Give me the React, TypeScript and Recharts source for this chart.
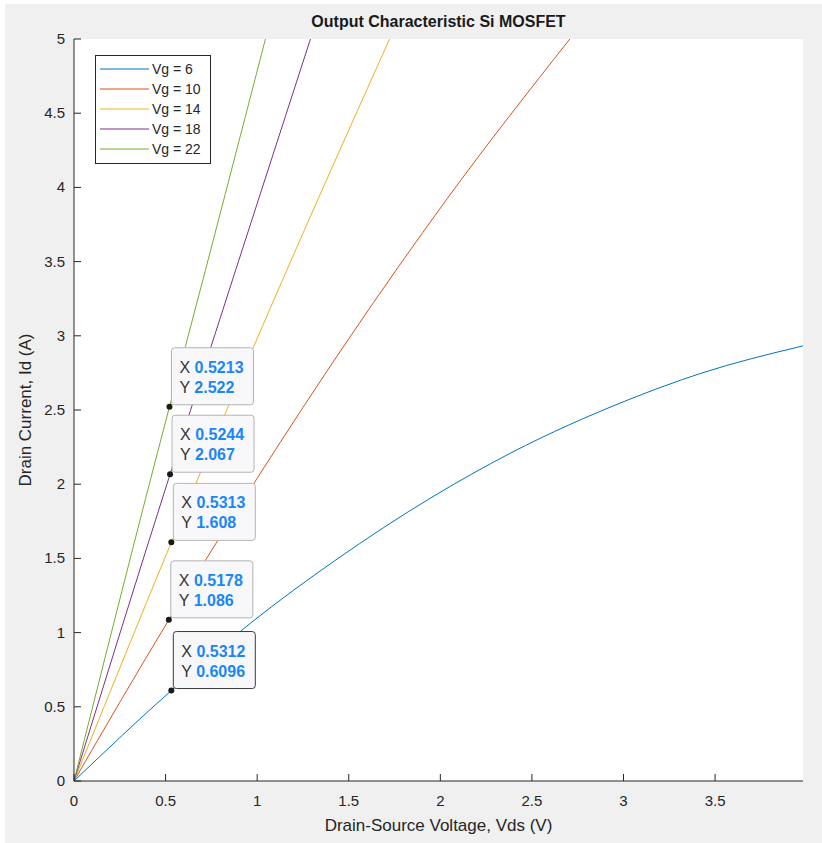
import { LineChart, Line, XAxis, YAxis, CartesianGrid, Legend, ReferenceDot } from 'recharts';

const FONT = '"Liberation Sans", Arial, Helvetica, sans-serif';
const AXIS_COLOR = '#262626';
const TIP_BLUE = '#1a87f5';

// gate voltages and their curves (Vds in V, Id in A)
const gateVoltages = [6, 10, 14, 18, 22];
const seriesColors = ['#0072BD', '#D95319', '#EDB120', '#7E2F8E', '#77AC30'];
const seriesNames = gateVoltages.map((v) => `Vg = ${v}`);

const vdsVg6 = [0, 0.5312, 0.963, 1.43, 1.947, 2.384, 3.023, 3.422, 3.98];
const idVg6 = [0, 0.6096, 1.063, 1.49, 1.907, 2.21, 2.567, 2.747, 2.932];

const vdsVg10 = [0, 0.5178, 1.0, 1.5, 2.038, 2.707];
const idVg10 = [0, 1.086, 2.04, 2.98, 3.925, 5];

const vdsVg14 = [0, 0.5313, 0.981, 1.723];
const idVg14 = [0, 1.608, 2.927, 5];

const vdsVg18 = [0, 0.5244, 0.748, 1.291];
const idVg18 = [0, 2.067, 2.927, 5];

const vdsVg22 = [0, 0.5213, 0.608, 1.045];
const idVg22 = [0, 2.522, 2.927, 5];

const xTicks = [0, 0.5, 1, 1.5, 2, 2.5, 3, 3.5];
const yTicks = [0, 0.5, 1, 1.5, 2, 2.5, 3, 3.5, 4, 4.5, 5];

// data tips
const tipVds = [0.5213, 0.5244, 0.5313, 0.5178, 0.5312];
const tipId = [2.522, 2.067, 1.608, 1.086, 0.6096];

const toPoints = (xs: number[], ys: number[]) => xs.map((v, i) => ({ vds: v, id: ys[i] }));

const series = [
    toPoints(vdsVg6, idVg6),
    toPoints(vdsVg10, idVg10),
    toPoints(vdsVg14, idVg14),
    toPoints(vdsVg18, idVg18),
    toPoints(vdsVg22, idVg22),
];

const TICK_LEN = 7;

const BottomTick = ({ x, y, payload }: any) => (
    <g>
        <line x1={x} x2={x} y1={y} y2={y - TICK_LEN} stroke={AXIS_COLOR} />
        <text x={x} y={y + 25} textAnchor="middle" fontSize={15} fill={AXIS_COLOR} fontFamily={FONT}>
            {payload.value}
        </text>
    </g>
);

const TopTick = ({ x, y }: any) => <line x1={x} x2={x} y1={y} y2={y + TICK_LEN} stroke={AXIS_COLOR} />;

const LeftTick = ({ x, y, payload }: any) => (
    <g>
        <line x1={x} x2={x + TICK_LEN} y1={y} y2={y} stroke={AXIS_COLOR} />
        <text x={x - 9} y={y + 5} textAnchor="end" fontSize={15} fill={AXIS_COLOR} fontFamily={FONT}>
            {payload.value}
        </text>
    </g>
);

const RightTick = ({ x, y }: any) => <line x1={x} x2={x - TICK_LEN} y1={y} y2={y} stroke={AXIS_COLOR} />;

const LegendBox = ({ payload }: any) => {
    // keep plotting order (recharts sorts by name otherwise)
    const items = [...(payload || [])].sort(
        (a: any, b: any) => seriesNames.indexOf(a.value) - seriesNames.indexOf(b.value)
    );
    return (
        <svg width={116} height={109} style={{ display: 'block' }}>
            <rect x={0.5} y={0.5} width={115} height={108} fill="#fff" stroke={AXIS_COLOR} />
            {items.map((entry: any, i: number) => {
                const cy = 14 + i * 20;
                return (
                    <g key={entry.value}>
                        <line x1={5} x2={54} y1={cy} y2={cy} stroke={entry.color} strokeWidth={1} />
                        <text x={57} y={cy + 5} fontSize={14} fill={AXIS_COLOR} fontFamily={FONT}>
                            {entry.value}
                        </text>
                    </g>
                );
            })}
        </svg>
    );
};

const makeTip = (xv: number, yv: number, selected: boolean) => (props: any) => {
    const { cx, cy } = props;
    return (
        <g>
            <rect
                x={cx + 2}
                y={cy - 59}
                width={82}
                height={57}
                rx={3}
                fill="#f8f8fb"
                stroke={selected ? '#3a3a3a' : '#b4b4b4'}
            />
            <text x={cx + 10} y={cy - 34} fontSize={16} fontFamily={FONT} fill="#333">
                X <tspan fill={TIP_BLUE} fontWeight="bold">{xv}</tspan>
            </text>
            <text x={cx + 10} y={cy - 14} fontSize={16} fontFamily={FONT} fill="#333">
                Y <tspan fill={TIP_BLUE} fontWeight="bold">{yv}</tspan>
            </text>
            <circle cx={cx} cy={cy} r={3} fill="#1a1a1a" />
        </g>
    );
};

export default function App() {
    return (
        <div style={{ position: 'absolute', left: 0, top: 0, width: 822, height: 843, background: '#fff', overflow: 'hidden' }}>
            <div style={{ position: 'absolute', left: 5, top: 4, right: 0, bottom: 0, background: '#f0f0f0' }} />
            <div
                style={{
                    position: 'absolute',
                    left: 74,
                    top: 13,
                    width: 729,
                    textAlign: 'center',
                    fontFamily: FONT,
                    fontWeight: 'bold',
                    fontSize: 16,
                    lineHeight: '18px',
                    color: '#1a1a1a',
                }}
            >
                Output Characteristic Si MOSFET
            </div>
            <div style={{ position: 'absolute', left: 0, top: 0 }}>
                <LineChart width={822} height={843} margin={{ top: 39, right: 19, left: 0, bottom: 0 }}>
                    <CartesianGrid fill="#fff" stroke="none" horizontal={false} vertical={false} />
                    <XAxis
                        xAxisId={0}
                        dataKey="vds"
                        type="number"
                        domain={[0, 3.98]}
                        allowDataOverflow
                        ticks={xTicks}
                        interval={0}
                        height={62}
                        tickSize={0}
                        tickMargin={0}
                        tickLine={false}
                        axisLine={{ stroke: AXIS_COLOR }}
                        tick={<BottomTick />}
                        label={{
                            value: 'Drain-Source Voltage, Vds (V)',
                            position: 'center',
                            dy: 13,
                            fontSize: 17,
                            fill: AXIS_COLOR,
                            fontFamily: FONT,
                        }}
                    />
                    <XAxis
                        xAxisId="top"
                        orientation="top"
                        type="number"
                        domain={[0, 3.98]}
                        allowDataOverflow
                        ticks={xTicks}
                        interval={0}
                        height={0}
                        tickSize={0}
                        tickMargin={0}
                        tickLine={false}
                        axisLine={{ stroke: AXIS_COLOR }}
                        tick={<TopTick />}
                    />
                    <YAxis
                        yAxisId={0}
                        type="number"
                        domain={[0, 5]}
                        allowDataOverflow
                        ticks={yTicks}
                        interval={0}
                        width={74}
                        tickSize={0}
                        tickMargin={0}
                        tickLine={false}
                        axisLine={{ stroke: AXIS_COLOR }}
                        tick={<LeftTick />}
                        label={{
                            value: 'Drain Current, Id (A)',
                            position: 'center',
                            angle: -90,
                            dx: -12,
                            fontSize: 17,
                            fill: AXIS_COLOR,
                            fontFamily: FONT,
                        }}
                    />
                    <YAxis
                        yAxisId="right"
                        orientation="right"
                        type="number"
                        domain={[0, 5]}
                        allowDataOverflow
                        ticks={yTicks}
                        interval={0}
                        width={0}
                        tickSize={0}
                        tickMargin={0}
                        tickLine={false}
                        axisLine={{ stroke: AXIS_COLOR }}
                        tick={<RightTick />}
                    />
                    {series.map((data, i) => (
                        <Line
                            key={gateVoltages[i]}
                            data={data}
                            dataKey="id"
                            name={seriesNames[i]}
                            type="monotone"
                            stroke={seriesColors[i]}
                            strokeWidth={1}
                            dot={false}
                            activeDot={false}
                            isAnimationActive={false}
                        />
                    ))}
                    {tipVds.map((xv, i) => (
                        <ReferenceDot
                            key={`tip-${i}`}
                            x={xv}
                            y={tipId[i]}
                            r={3}
                            shape={makeTip(xv, tipId[i], i === tipVds.length - 1)}
                        />
                    ))}
                    <Legend
                        layout="vertical"
                        align="center"
                        verticalAlign="middle"
                        content={<LegendBox />}
                        wrapperStyle={{ left: 95, top: 55, width: 116, height: 109 }}
                    />
                </LineChart>
            </div>
        </div>
    );
}
